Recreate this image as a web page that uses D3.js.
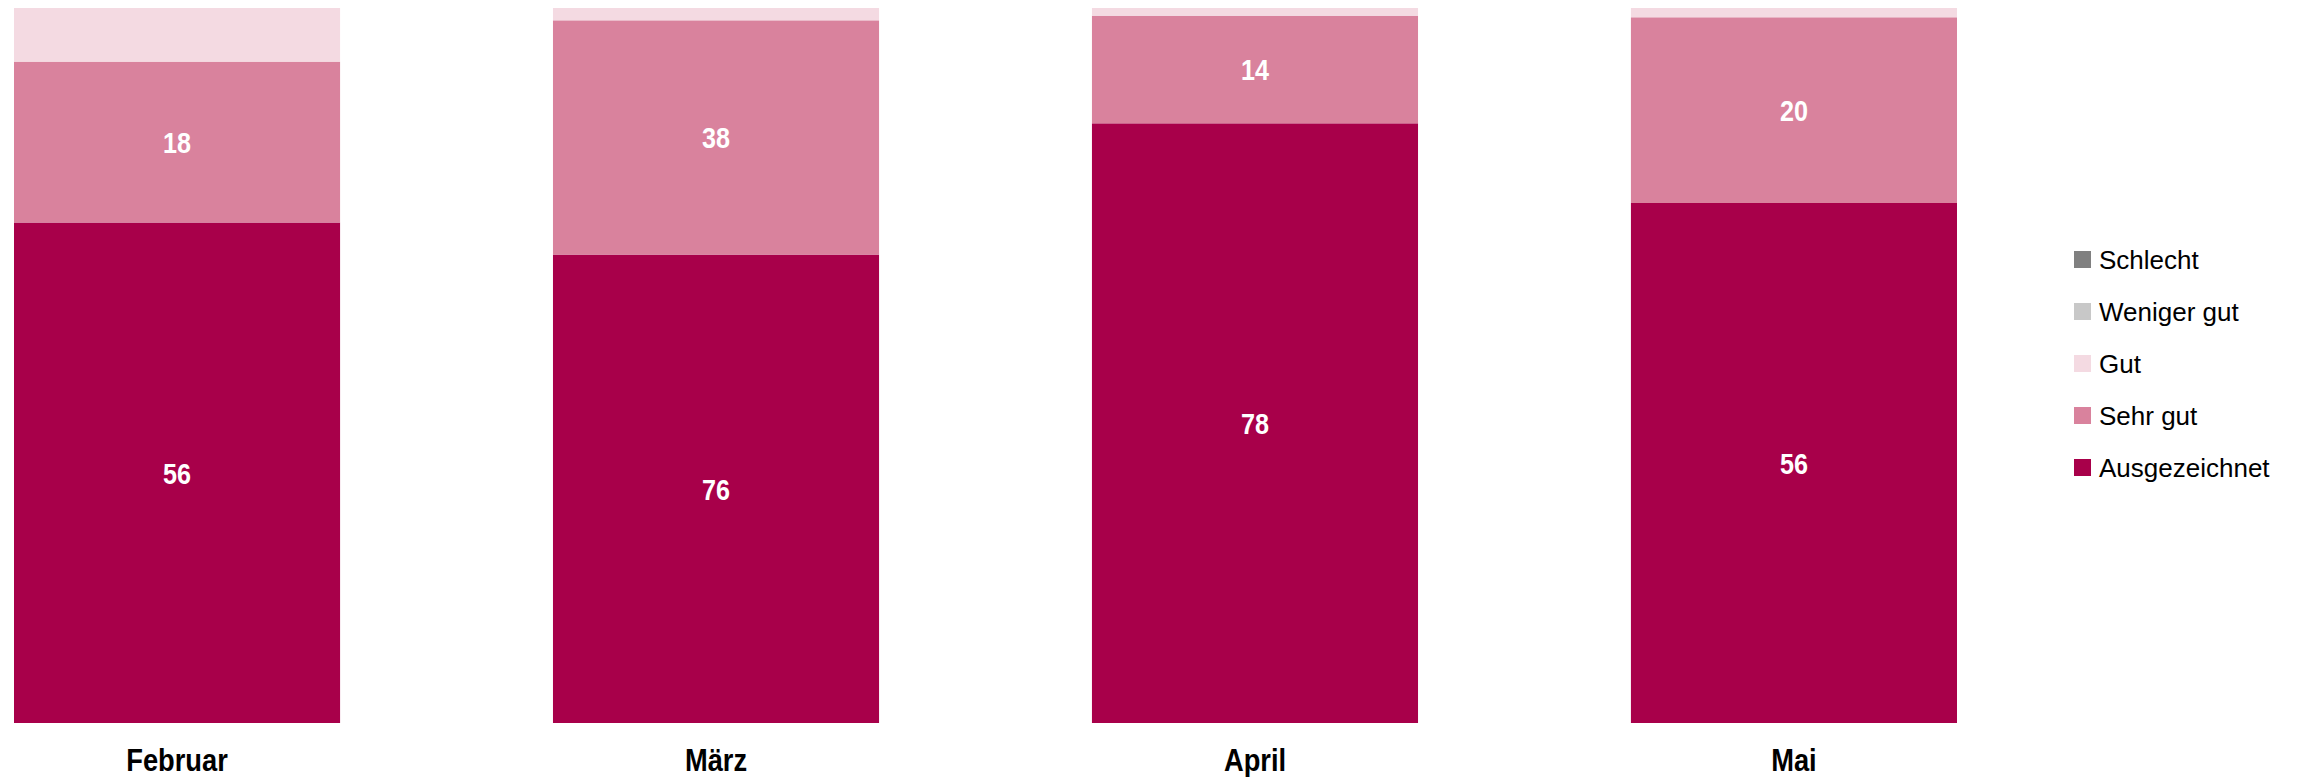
<!DOCTYPE html>
<html>
<head>
<meta charset="utf-8">
<script src="https://cdn.jsdelivr.net/npm/d3@7"></script>
<style>
  body { margin: 0; background: #fff; }
  svg text { font-family: 'Liberation Sans', Arial, sans-serif; }
  .val, .cat { font-family: 'Liberation Sans Narrow', 'Arial Narrow', 'Liberation Sans', sans-serif; font-weight: bold; }
</style>
</head>
<body>
<svg id="chart" width="2303" height="777"></svg>
<script>
var months = ['Februar', 'März', 'April', 'Mai'];
var ratings = ['Ausgezeichnet', 'Sehr gut', 'Gut', 'Weniger gut', 'Schlecht'];
var colors = ['#a8004a', '#d9829d', '#f4dae2', '#c8c8c8', '#808080'];

var ausgezeichnet = [56, 76, 78, 56];
var sehrGut       = [18, 38, 14, 20];
var gut           = [6, 2, 1, 1];
var wenigerGut    = [0, 0, 0, 0];
var schlecht      = [0, 0, 0, 0];

// no narrow font installed, so squeeze the bold labels a bit
var NARROW = 'scale(0.84,1)';

var svg = d3.select('#chart');

var rows = months.map(function (m, i) {
  return {
    month: m,
    'Ausgezeichnet': ausgezeichnet[i],
    'Sehr gut': sehrGut[i],
    'Gut': gut[i],
    'Weniger gut': wenigerGut[i],
    'Schlecht': schlecht[i]
  };
});

var series = d3.stack().keys(ratings).offset(d3.stackOffsetExpand)(rows);

var x = d3.scaleBand().domain(months).range([14, 1957]).paddingInner(0.395).paddingOuter(0);
var y = d3.scaleLinear().domain([0, 1]).range([723, 8]);
var color = d3.scaleOrdinal().domain(ratings).range(colors);

var layers = svg.selectAll('.layer').data(series).enter()
  .append('g').classed('layer', true)
    .attr('fill', function (s) { return color(s.key); });

layers.selectAll('rect').data(function (s) { return s; }).enter()
  .append('rect')
    .attr('x', function (d) { return x(d.data.month); })
    .attr('width', x.bandwidth())
    .attr('y', function (d) { return y(d[1]); })
    .attr('height', function (d) { return y(d[0]) - y(d[1]); });

// value labels, only for segments big enough
layers.each(function (s) {
  d3.select(this).selectAll('g').data(s.filter(function (d) { return d.data[s.key] >= 10; })).enter()
    .append('g')
      .attr('transform', function (d) {
        return 'translate(' + (x(d.data.month) + x.bandwidth() / 2) + ',' + ((y(d[0]) + y(d[1])) / 2) + ')';
      })
    .append('text').classed('val', true)
      .attr('transform', NARROW)
      .attr('dy', '0.36em')
      .attr('text-anchor', 'middle')
      .attr('fill', '#fff')
      .attr('font-size', 30)
      .text(function (d) { return d.data[s.key]; });
});

var xAxis = svg.append('g').attr('transform', 'translate(0,723)')
  .call(d3.axisBottom(x).tickSize(0).tickPadding(0));
xAxis.select('.domain').remove();
xAxis.selectAll('text').classed('cat', true)
  .attr('font-size', 31)
  .attr('fill', '#000')
  .attr('y', 48)
  .attr('dy', 0)
  .attr('transform', 'scale(0.88,1)');

// legend, top to bottom reversed
var legend = svg.append('g').attr('transform', 'translate(2074,251)');
var items = legend.selectAll('g').data(ratings.slice().reverse()).enter()
  .append('g')
    .attr('transform', function (d, i) { return 'translate(0,' + (i * 52) + ')'; });

items.append('rect').attr('width', 17).attr('height', 17).attr('fill', color);
items.append('text')
  .attr('x', 25).attr('y', 8.5).attr('dy', '0.36em')
  .attr('font-size', 26).attr('fill', '#000')
  .text(function (d) { return d; });
</script>
</body>
</html>
